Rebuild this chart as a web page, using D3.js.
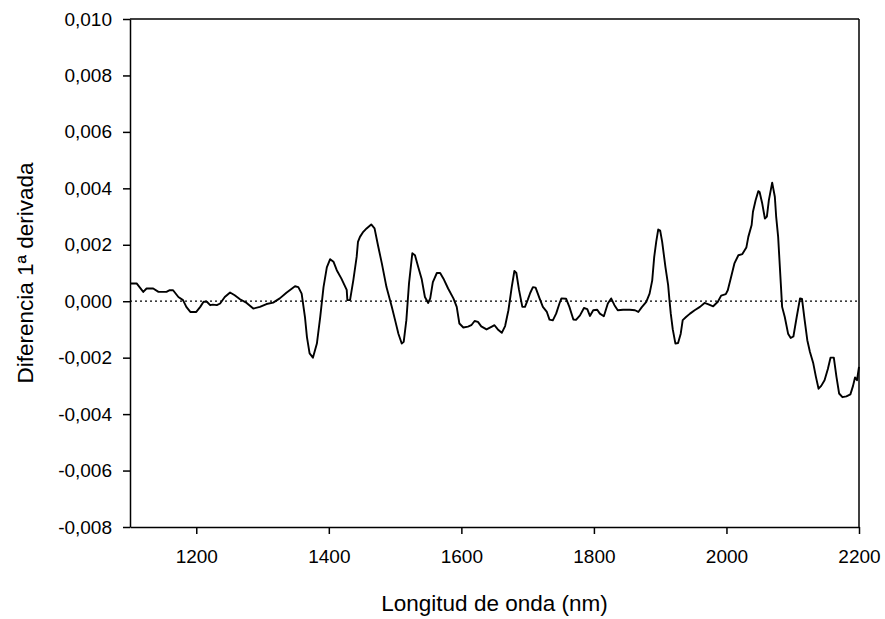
<!DOCTYPE html>
<html>
<head>
<meta charset="utf-8">
<script src="https://cdn.jsdelivr.net/npm/d3@7"></script>
<style>
  body { margin: 0; background: #fff; }
  svg { font-family: "Liberation Sans", Arial, sans-serif; }
</style>
</head>
<body>
<svg width="885" height="619"></svg>
<script>
// wavelength (nm)
const wavelengths = [1100, 1110, 1120, 1125, 1135, 1143, 1155, 1160, 1165, 1173, 1180, 1185, 1191, 1200, 1206, 1211, 1216, 1221, 1225, 1231, 1236, 1243, 1251, 1258, 1266, 1276, 1286, 1296, 1306, 1316, 1326, 1336, 1349, 1354, 1359, 1364, 1367, 1371, 1376, 1382, 1387, 1392, 1397, 1402, 1407, 1412, 1419, 1427, 1428, 1432, 1437, 1442, 1444, 1447, 1452, 1457, 1464, 1469, 1474, 1480, 1487, 1495, 1500, 1505, 1510, 1513, 1517, 1521, 1526, 1530, 1535, 1540, 1545, 1550, 1553, 1557, 1563, 1568, 1573, 1580, 1588, 1593, 1597, 1603, 1610, 1615, 1620, 1625, 1630, 1638, 1646, 1650, 1655, 1661, 1666, 1671, 1676, 1680, 1683, 1687, 1692, 1696, 1700, 1704, 1708, 1712, 1718, 1723, 1729, 1733, 1738, 1743, 1748, 1751, 1758, 1763, 1769, 1773, 1779, 1785, 1790, 1794, 1799, 1805, 1809, 1815, 1821, 1826, 1831, 1836, 1844, 1854, 1862, 1867, 1872, 1879, 1884, 1888, 1891, 1894, 1897, 1900, 1903, 1908, 1912, 1914, 1916, 1919, 1923, 1927, 1931, 1934, 1939, 1945, 1952, 1960, 1967, 1972, 1980, 1987, 1992, 1999, 2002, 2007, 2012, 2018, 2024, 2030, 2033, 2038, 2040, 2044, 2048, 2050, 2054, 2058, 2061, 2064, 2069, 2073, 2075, 2078, 2080, 2082, 2084, 2088, 2093, 2097, 2101, 2106, 2111, 2114, 2118, 2122, 2126, 2131, 2135, 2139, 2143, 2148, 2153, 2157, 2162, 2166, 2170, 2175, 2181, 2187, 2191, 2194, 2197, 2200];
// first derivative difference
const diffValues = [0.00063, 0.00063, 0.00033, 0.00045, 0.00045, 0.00033, 0.00033, 0.00039, 0.00039, 0.00015, 0.00004, -0.0002, -0.00038, -0.00038, -0.0002, -0.00002, -0.00002, -0.00014, -0.00012, -0.00014, -0.00008, 0.00015, 0.00031, 0.00021, 0.00007, -0.00006, -0.00026, -0.0002, -0.0001, -0.00005, 0.0001, 0.0003, 0.00053, 0.0005, 0.00027, -0.00056, -0.00127, -0.00185, -0.002, -0.0015, -0.00056, 0.0005, 0.0012, 0.00149, 0.0014, 0.0011, 0.0008, 0.0004, 0.00004, 0.00004, 0.00075, 0.00157, 0.0021, 0.00228, 0.00246, 0.00258, 0.00272, 0.00258, 0.002, 0.00134, 0.0005, -0.0002, -0.00067, -0.00115, -0.0015, -0.00144, -0.00067, 0.00063, 0.0017, 0.00163, 0.0012, 0.0008, 0.00015, -0.00006, 0.0001, 0.00068, 0.001, 0.001, 0.0008, 0.00045, 0.0001, -0.0002, -0.00079, -0.00093, -0.0009, -0.00085, -0.0007, -0.00073, -0.00089, -0.001, -0.0009, -0.00085, -0.001, -0.00112, -0.00088, -0.00032, 0.0005, 0.00107, 0.001, 0.0004, -0.0002, -0.0002, 0.00004, 0.0003, 0.0005, 0.00048, 0.0001, -0.0002, -0.00038, -0.00065, -0.00068, -0.00044, -0.00008, 0.0001, 0.00009, -0.0002, -0.00065, -0.00066, -0.0005, -0.00024, -0.00028, -0.00052, -0.00032, -0.0003, -0.00044, -0.00053, -0.00008, 0.0001, -0.00014, -0.00032, -0.0003, -0.0003, -0.00032, -0.00038, -0.00022, -0.00002, 0.00027, 0.00074, 0.00157, 0.0021, 0.00254, 0.0025, 0.0021, 0.0012, 0.00057, 0.00004, -0.00044, -0.001, -0.0015, -0.00148, -0.00115, -0.00067, -0.00056, -0.00044, -0.00032, -0.0002, -0.00006, -0.0001, -0.00018, -0.00002, 0.0002, 0.00025, 0.00039, 0.00086, 0.00134, 0.00163, 0.00167, 0.0019, 0.00228, 0.0027, 0.00317, 0.00358, 0.0039, 0.00387, 0.00346, 0.00293, 0.003, 0.00358, 0.0042, 0.0037, 0.003, 0.00228, 0.00145, 0.00063, -0.0002, -0.00056, -0.00115, -0.0013, -0.00125, -0.00056, 0.0001, 0.00008, -0.00067, -0.00138, -0.0018, -0.0022, -0.00268, -0.0031, -0.003, -0.0028, -0.0024, -0.002, -0.002, -0.00268, -0.00327, -0.0034, -0.00337, -0.0033, -0.003, -0.0027, -0.0028, -0.00233];
const xTicks = [1200, 1400, 1600, 1800, 2000, 2200];
const yTicks = [-0.008, -0.006, -0.004, -0.002, 0, 0.002, 0.004, 0.006, 0.008, 0.010];

const data = wavelengths.map((w, i) => [w, diffValues[i]]);

let svg = d3.select('svg');
let plotLeft = 130, plotRight = 859, plotTop = 19, plotBottom = 527;

let xScale = d3.scaleLinear().domain([1100, 2200]).range([plotLeft, plotRight]);
let yScale = d3.scaleLinear().domain([-0.008, 0.010]).range([plotBottom, plotTop]);

const es = d3.formatLocale({decimal: ",", thousands: ".", grouping: [3], currency: ["", ""], minus: "-"});
const yFmt = es.format(".3f");

// frame: top and right edges
svg.append('line')
   .attr('x1', plotLeft).attr('x2', plotRight)
   .attr('y1', plotTop).attr('y2', plotTop)
   .attr('stroke', '#000').attr('stroke-width', 1.5);
svg.append('line')
   .attr('x1', plotRight).attr('x2', plotRight)
   .attr('y1', plotTop).attr('y2', plotBottom)
   .attr('stroke', '#000').attr('stroke-width', 1.5);

// zero reference line
svg.append('line')
   .attr('x1', plotLeft).attr('x2', plotRight)
   .attr('y1', yScale(0)).attr('y2', yScale(0))
   .attr('stroke', '#000').attr('stroke-width', 1.3)
   .attr('stroke-dasharray', '2,3');

let xAxis = d3.axisBottom(xScale).tickValues(xTicks).tickFormat(d3.format('d')).tickSize(7).tickSizeOuter(0);
let yAxis = d3.axisLeft(yScale).tickValues(yTicks).tickFormat(yFmt).tickSize(7).tickSizeOuter(0);

let gx = svg.append('g')
   .attr('transform', 'translate(0,' + plotBottom + ')')
   .call(xAxis);
let gy = svg.append('g')
   .attr('transform', 'translate(' + plotLeft + ',0)')
   .call(yAxis);

[gx, gy].forEach(g => {
  g.selectAll('path, line').attr('stroke', '#000').attr('stroke-width', 1.5);
  g.selectAll('text').attr('fill', '#000').style('font-size', '19px')
   .style('font-family', '"Liberation Sans", Arial, sans-serif');
});
gx.selectAll('text').attr('y', 36).attr('dy', 0);
gy.selectAll('text').attr('x', -18);

// the curve
let line = d3.line().x(d => xScale(d[0])).y(d => yScale(d[1]));
svg.append('path')
   .datum(data)
   .attr('d', line)
   .attr('fill', 'none')
   .attr('stroke', '#000')
   .attr('stroke-width', 1.9)
   .attr('stroke-linejoin', 'round');

// axis titles
svg.append('text')
   .attr('x', (plotLeft + plotRight) / 2).attr('y', 611)
   .attr('text-anchor', 'middle')
   .style('font-size', '22.5px')
   .text('Longitud de onda (nm)');
svg.append('text')
   .attr('transform', 'translate(33,' + ((plotTop + plotBottom) / 2) + ') rotate(-90)')
   .attr('text-anchor', 'middle')
   .style('font-size', '22.5px')
   .text('Diferencia 1ª derivada');
</script>
</body>
</html>
